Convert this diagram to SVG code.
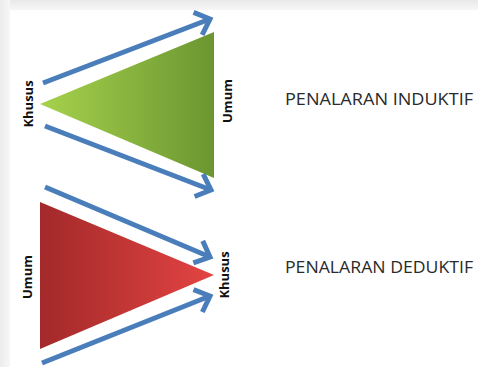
<svg xmlns="http://www.w3.org/2000/svg" width="478" height="367" viewBox="0 0 478 367">
<defs>
<linearGradient id="gTop" x1="0" y1="0" x2="0" y2="1"><stop offset="0" stop-color="#e9e9e9"/><stop offset="1" stop-color="#f6f6f6"/></linearGradient>
<linearGradient id="gLeft" x1="0" y1="0" x2="1" y2="0"><stop offset="0" stop-color="#ececec"/><stop offset="1" stop-color="#f7f7f7"/></linearGradient>
<linearGradient id="gGreen" x1="0" y1="0" x2="1" y2="0"><stop offset="0" stop-color="#a6d24c"/><stop offset="1" stop-color="#6b9631"/></linearGradient>
<linearGradient id="gRed" x1="0" y1="0" x2="1" y2="0"><stop offset="0" stop-color="#a3292a"/><stop offset="1" stop-color="#e34442"/></linearGradient>
<marker id="arr" markerUnits="userSpaceOnUse" markerWidth="30" markerHeight="30" refX="15" refY="15" orient="auto" overflow="visible">
<path d="M2,3 L15,15 L2,27" fill="none" stroke="#4a7ebb" stroke-width="5" stroke-linejoin="miter" stroke-linecap="butt"/>
</marker>
<style>
.conn{stroke:#4a7ebb;stroke-width:5;fill:none;marker-end:url(#arr)}
.lab{font-family:"Open Sans","Liberation Sans",sans-serif;font-weight:bold;font-size:13px;fill:#111;text-anchor:middle}
.title{font-family:"Open Sans","Liberation Sans",sans-serif;font-size:16.5px;fill:#2a2a2a}
</style>
</defs>
<rect width="478" height="367" fill="#ffffff"/>
<rect x="0" y="0" width="478" height="10" fill="url(#gTop)"/>
<rect x="0" y="0" width="10" height="367" fill="url(#gLeft)"/>
<g id="induktif">
<polygon points="40,104 214,32 214,178" fill="url(#gGreen)"/>
<text class="lab" transform="translate(33,104) rotate(-90)">Khusus</text>
<text class="lab" transform="translate(232,101) rotate(-90)">Umum</text>
<text class="title" x="285" y="105" textLength="188" lengthAdjust="spacingAndGlyphs">PENALARAN INDUKTIF</text>
</g>
<g id="deduktif">
<polygon points="40,202 40,349 214,275" fill="url(#gRed)"/>
<text class="lab" transform="translate(32,277) rotate(-90)">Umum</text>
<text class="lab" transform="translate(229,275) rotate(-90)">Khusus</text>
<text class="title" x="285" y="273" textLength="188" lengthAdjust="spacingAndGlyphs">PENALARAN DEDUKTIF</text>
</g>
<g id="connectors">
<line class="conn" x1="43" y1="83" x2="210" y2="19"/>
<line class="conn" x1="45" y1="126" x2="211" y2="190"/>
<line class="conn" x1="45" y1="187" x2="210" y2="257"/>
<line class="conn" x1="42" y1="363" x2="210" y2="296"/>
</g>
</svg>
